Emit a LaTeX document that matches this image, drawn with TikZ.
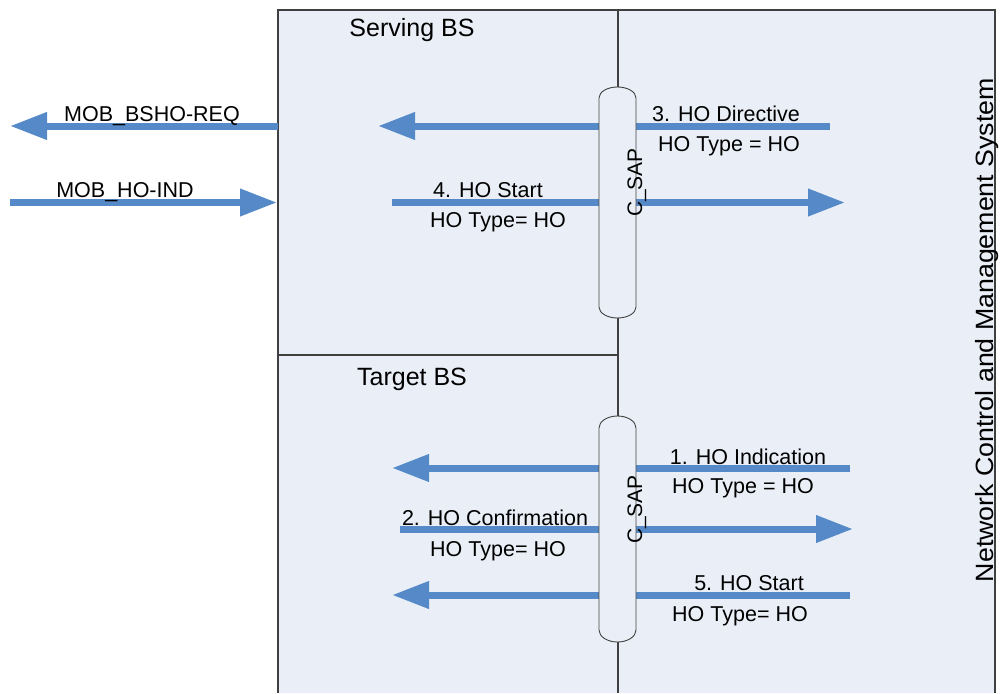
\documentclass[tikz,border=0pt]{standalone}
\usepackage{fontspec}
\setmainfont{Liberation Sans}
\usetikzlibrary{arrows.meta}
\definecolor{panel}{RGB}{234,239,247}
\definecolor{flowblue}{RGB}{86,137,200}
\definecolor{frame}{RGB}{64,64,64}
\begin{document}
\begin{tikzpicture}[x=1pt,y=-1pt,
  flow/.style={draw=flowblue,line width=7pt,-{Triangle[length=37pt,width=26pt]}},
  lbl/.style={font=\fontsize{21.5}{24}\selectfont,anchor=base,inner sep=0pt},
  title/.style={font=\fontsize{25}{28}\selectfont,anchor=base,inner sep=0pt},
  sap/.style={draw=frame,line width=0.9pt,fill=panel},
  border/.style={draw=frame,line width=1.3pt}]

\useasboundingbox (0,0) rectangle (1000,693);

% panels: serving BS, target BS and the management system column
\fill[panel] (278,10) rectangle (995,693);
\draw[border] (278,693) -- (278,10) -- (995,10) -- (995,693);
\draw[border] (278,355) -- (618,355);
\draw[frame,line width=1.1pt] (618,10) -- (618,693);

% end points of the message flows
\coordinate (bshoA) at (278,126);   \coordinate (bshoB) at (10,126);
\coordinate (indA)  at (10,202.5);  \coordinate (indB)  at (277,202.5);
\coordinate (dirA)  at (830,126);   \coordinate (dirB)  at (378,126);
\coordinate (stsA)  at (392,202.5); \coordinate (stsB)  at (845,202.5);
\coordinate (hoiA)  at (850,468);   \coordinate (hoiB)  at (392,468);
\coordinate (cnfA)  at (400,529);   \coordinate (cnfB)  at (853,529);
\coordinate (sttA)  at (850,595);   \coordinate (sttB)  at (392,595);

\draw[flow] (bshoA) -- (bshoB);
\draw[flow] (indA) -- (indB);
\draw[flow] (dirA) -- (dirB);
\draw[flow] (stsA) -- (stsB);
\draw[flow] (hoiA) -- (hoiB);
\draw[flow] (cnfA) -- (cnfB);
\draw[flow] (sttA) -- (sttB);

% C_SAP service access points
\draw[sap] (599,98) arc[start angle=180,end angle=0,x radius=18.5pt,y radius=11pt]
  -- (636,307) arc[start angle=0,end angle=-180,x radius=18.5pt,y radius=11pt] -- cycle;
\draw[sap] (599,428) arc[start angle=180,end angle=0,x radius=18.5pt,y radius=12pt]
  -- (636,630) arc[start angle=0,end angle=-180,x radius=18.5pt,y radius=12pt] -- cycle;
\node[lbl,font=\fontsize{21}{24}\selectfont,rotate=90] (sapS) at (642,182.5) {C\_SAP};
\node[lbl,font=\fontsize{21}{24}\selectfont,rotate=90] (sapT) at (642,509.5) {C\_SAP};

% titles
\node[title] (serving) at (412,37) {Serving BS};
\node[title] (target) at (412,385) {Target BS};
\node[title,rotate=90] (ncms) at (993,330) {\scalebox{1.07}[1]{Network Control and Management System}};

% message labels
\node[lbl] (lbsho) at (152,121) {MOB\_BSHO-REQ};
\node[lbl] (lind)  at (125,197) {MOB\_HO-IND};
\node[lbl] (ldir)  at (726,121) {3. HO Directive};
\node[lbl] (ldirT) at (729,151) {HO Type = HO};
\node[lbl] (lsts)  at (488,197) {4. HO Start};
\node[lbl] (lstsT) at (498,227) {HO Type= HO};
\node[lbl] (lhoi)  at (748,464) {1. HO Indication};
\node[lbl] (lhoiT) at (743,493) {HO Type = HO};
\node[lbl] (lcnf)  at (495,525) {2. HO Confirmation};
\node[lbl] (lcnfT) at (498,556) {HO Type= HO};
\node[lbl] (lstt)  at (749,590) {5. HO Start};
\node[lbl] (lsttT) at (740,621) {HO Type= HO};
\end{tikzpicture}
\end{document}
